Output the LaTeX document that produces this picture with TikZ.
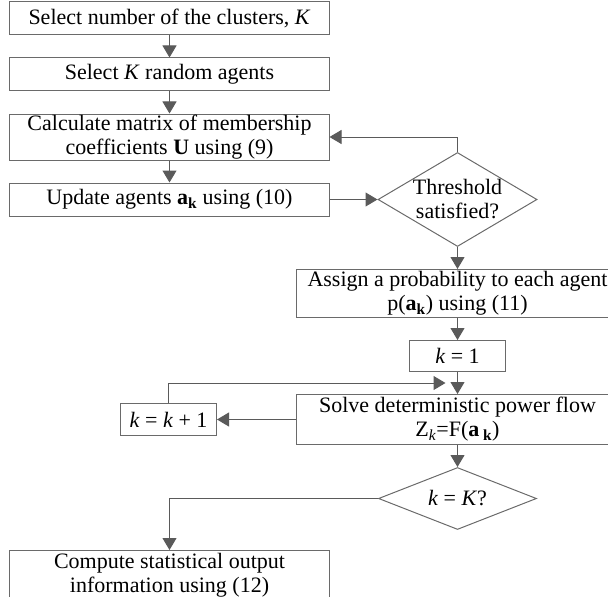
\documentclass[tikz,border=0pt]{standalone}
\usepackage{fontspec}
\setmainfont{Liberation Serif}
\usetikzlibrary{arrows.meta,positioning,shapes.geometric,calc}
\definecolor{flowgray}{HTML}{5A5A5A}
\definecolor{edgegray}{HTML}{6A6A6A}

\newcommand{\agentk}{\textbf{a}\textsubscript{\textbf{k}}}

\begin{document}
\begin{tikzpicture}[
        x=1bp, y=1bp,
        node distance=22bp,
        box/.style={
          draw=edgegray,
          line width=1bp,
          minimum width=319bp,
          minimum height=33bp,
          inner sep=0pt,
          align=center,
          font=\fontsize{22bp}{24bp}\selectfont
        },
        wide/.style={box, minimum width=322bp},
        small/.style={box, minimum width=96bp, minimum height=32bp},
        decision/.style={
          diamond,
          draw=edgegray,
          line width=1bp,
          inner sep=-4bp,
          align=center,
          font=\fontsize{22bp}{24bp}\selectfont
        },
        arrow/.style={
          -{Triangle[length=12bp,width=14bp]},
          line width=1bp,
          flowgray
        }
      ]
      \useasboundingbox (0,0) rectangle (608,-597);

      \node[box] (select) at (169.5,-18.5) {Select number of the clusters, \textit{K}};
      \node[box, below=of select] (random) {Select \textit{K} random agents};
      \node[box, minimum height=46bp, below=of random] (member) {Calculate matrix of membership\\coefficients \textbf{U} using (9)};
      \node[box, below=of member] (update) {Update agents \agentk{} using (10)};
      \node[decision, aspect=1.7, minimum width=159bp, minimum height=94bp, right=48bp of update] (thresh) {Threshold\\satisfied?};
      \node[wide, minimum height=48bp, below=of thresh] (prob) {Assign a probability to each agent\\p(\agentk) using (11)};
      \node[small, minimum height=31bp, below=of prob] (kone) {\textit{k} = 1};
      \node[wide, minimum height=50bp, below=of kone] (solve) {Solve deterministic power flow\\Z\textsubscript{\textit{k}}=F(\textbf{a}\,\textsubscript{\textbf{k}})};
      \node[small, left=79bp of solve] (kinc) {\textit{k} = \textit{k} + 1};
      \node[decision, aspect=2.5, minimum width=158bp, minimum height=62bp, below=of solve] (kcheck) {\textit{k} = \textit{K}?};
      \node[box, minimum height=50bp, anchor=north] (stats) at ($(kcheck.south -| select)+(0,-20)$) {Compute statistical output\\information using (12)};

      \coordinate (merge) at ($(kone.south)!0.5!(solve.north)+(-12,0)$);

      \draw[arrow] (select) -- (random);
      \draw[arrow] (random) -- (member);
      \draw[arrow] (member) -- (update);
      \draw[arrow] (update) -- (thresh);
      \draw[arrow] (thresh.north) |- (member.east);
      \draw[arrow] (thresh) -- (prob);
      \draw[arrow] (prob) -- (kone);
      \draw[arrow] (kone) -- (solve);
      \draw[arrow] (solve) -- (kinc);
      \draw[arrow] (kinc.north) |- (merge);
      \draw[arrow] (solve) -- (kcheck);
      \draw[arrow] (kcheck.west) -| (stats.north);

      \end{tikzpicture}
\end{document}
